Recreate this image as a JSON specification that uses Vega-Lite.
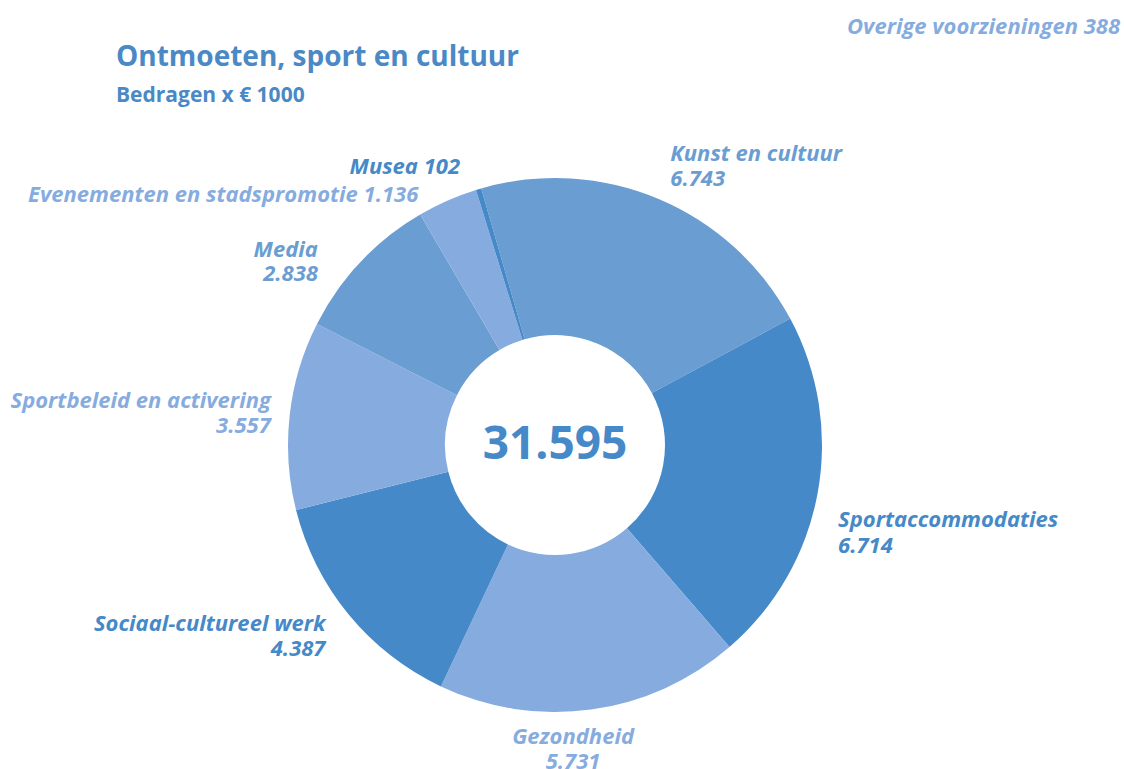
{
  "$schema": "https://vega.github.io/schema/vega-lite/v6.json",
  "autosize": "none",
  "width": 1110,
  "height": 648,
  "padding": {"left": 0, "top": 121, "right": 14, "bottom": 0},
  "background": "white",
  "config": {"view": {"stroke": null}, "font": "Open Sans"},
  "title": {
    "text": "Ontmoeten, sport en cultuur",
    "subtitle": "Bedragen x € 1000",
    "anchor": "start",
    "frame": "group",
    "dx": 116,
    "offset": -90,
    "font": "Open Sans",
    "fontSize": 28,
    "fontWeight": "bold",
    "color": "#4a89c6",
    "subtitleFont": "Open Sans",
    "subtitleFontSize": 21,
    "subtitleFontWeight": "bold",
    "subtitleColor": "#4a89c6",
    "subtitlePadding": 13
  },
  "datasets": {
    "posten": [
      {"volgorde": 1, "categorie": "Kunst en cultuur", "bedrag": 6743, "label": "Kunst en cultuur\n6.743"},
      {"volgorde": 2, "categorie": "Sportaccommodaties", "bedrag": 6714, "label": "Sportaccommodaties\n6.714"},
      {"volgorde": 3, "categorie": "Gezondheid", "bedrag": 5731, "label": "Gezondheid\n5.731"},
      {"volgorde": 4, "categorie": "Sociaal-cultureel werk", "bedrag": 4387, "label": "Sociaal-cultureel werk\n4.387"},
      {"volgorde": 5, "categorie": "Sportbeleid en activering", "bedrag": 3557, "label": "Sportbeleid en activering\n3.557"},
      {"volgorde": 6, "categorie": "Media", "bedrag": 2838, "label": "Media\n2.838"},
      {"volgorde": 7, "categorie": "Evenementen en stadspromotie", "bedrag": 1136, "label": "Evenementen en stadspromotie 1.136"},
      {"volgorde": 8, "categorie": "Musea", "bedrag": 102, "label": "Musea 102"}
    ],
    "totaal": [{"totaal": "31.595"}],
    "overig": [{"label": "Overige voorzieningen 388"}]
  },
  "data": {"name": "posten"},
  "encoding": {
    "theta": {"field": "bedrag", "type": "quantitative", "stack": true, "scale": {"range": [-0.28, 6.0032]}},
    "order": {"field": "volgorde", "type": "quantitative"},
    "color": {
      "field": "categorie",
      "type": "nominal",
      "legend": null,
      "scale": {
        "domain": ["Kunst en cultuur", "Sportaccommodaties", "Gezondheid", "Sociaal-cultureel werk", "Sportbeleid en activering", "Media", "Evenementen en stadspromotie", "Musea"],
        "range": ["#6a9dd2", "#4689c8", "#86acdf", "#4689c8", "#86acdf", "#6a9dd2", "#86acdf", "#4689c8"]
      }
    }
  },
  "layer": [
    {"mark": {"type": "arc", "innerRadius": 110, "outerRadius": 267}},
    {
      "mark": {"type": "text", "radius": 297, "align": "left", "baseline": "middle", "dy": -17, "fontSize": 22, "fontWeight": "bold", "fontStyle": "italic", "lineBreak": "\n", "lineHeight": 25},
      "encoding": {"text": {"condition": {"test": "datum.volgorde == 1", "field": "label", "type": "nominal"}, "value": ""}}
    },
    {
      "mark": {"type": "text", "radius": 297, "align": "left", "baseline": "middle", "dx": -9, "dy": 21, "fontSize": 22, "fontWeight": "bold", "fontStyle": "italic", "lineBreak": "\n", "lineHeight": 26},
      "encoding": {"text": {"condition": {"test": "datum.volgorde == 2", "field": "label", "type": "nominal"}, "value": ""}}
    },
    {
      "mark": {"type": "text", "radius": 297, "align": "center", "baseline": "middle", "dx": -22, "dy": -2, "fontSize": 22, "fontWeight": "bold", "fontStyle": "italic", "lineBreak": "\n", "lineHeight": 25},
      "encoding": {"text": {"condition": {"test": "datum.volgorde == 3", "field": "label", "type": "nominal"}, "value": ""}}
    },
    {
      "mark": {"type": "text", "radius": 297, "align": "right", "baseline": "middle", "dx": 0, "dy": -9, "fontSize": 22, "fontWeight": "bold", "fontStyle": "italic", "lineBreak": "\n", "lineHeight": 25},
      "encoding": {"text": {"condition": {"test": "datum.volgorde == 4", "field": "label", "type": "nominal"}, "value": ""}}
    },
    {
      "mark": {"type": "text", "radius": 297, "align": "right", "baseline": "middle", "dx": 11, "dy": -11, "fontSize": 22, "fontWeight": "bold", "fontStyle": "italic", "lineBreak": "\n", "lineHeight": 25},
      "encoding": {"text": {"condition": {"test": "datum.volgorde == 5", "field": "label", "type": "nominal"}, "value": ""}}
    },
    {
      "mark": {"type": "text", "radius": 297, "align": "right", "baseline": "middle", "dx": -21, "dy": 9, "fontSize": 22, "fontWeight": "bold", "fontStyle": "italic", "lineBreak": "\n", "lineHeight": 24},
      "encoding": {"text": {"condition": {"test": "datum.volgorde == 6", "field": "label", "type": "nominal"}, "value": ""}}
    },
    {
      "mark": {"type": "text", "radius": 297, "align": "right", "baseline": "middle", "dx": -17, "dy": 22, "fontSize": 22, "fontWeight": "bold", "fontStyle": "italic", "lineBreak": "\n", "lineHeight": 25},
      "encoding": {"text": {"condition": {"test": "datum.volgorde == 7", "field": "label", "type": "nominal"}, "value": ""}}
    },
    {
      "mark": {"type": "text", "radius": 297, "align": "right", "baseline": "middle", "dx": -10, "dy": 7, "fontSize": 22, "fontWeight": "bold", "fontStyle": "italic", "lineBreak": "\n", "lineHeight": 25},
      "encoding": {"text": {"condition": {"test": "datum.volgorde == 8", "field": "label", "type": "nominal"}, "value": ""}}
    },
    {
      "data": {"name": "totaal"},
      "mark": {"type": "text", "align": "center", "baseline": "middle", "fontSize": 46, "fontWeight": "bold", "color": "#4689c8"},
      "encoding": {"text": {"field": "totaal", "type": "nominal"}, "theta": null, "order": null, "color": null}
    },
    {
      "data": {"name": "overig"},
      "mark": {"type": "text", "align": "right", "baseline": "alphabetic", "dx": 10, "dy": -87, "fontSize": 22, "fontWeight": "bold", "fontStyle": "italic", "color": "#86acdf"},
      "encoding": {"text": {"field": "label", "type": "nominal"}, "x": {"value": "width"}, "y": {"value": 0}, "theta": null, "order": null, "color": null}
    }
  ]
}
